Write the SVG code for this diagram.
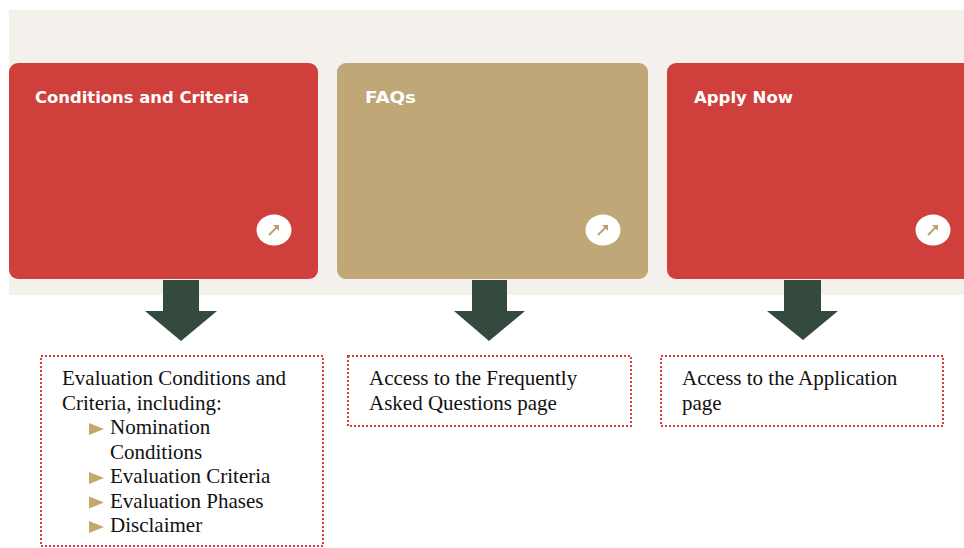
<svg xmlns="http://www.w3.org/2000/svg" width="964" height="548" viewBox="0 0 964 548">
<style>
.title{font-family:"DejaVu Sans","Liberation Sans",sans-serif;font-weight:bold;font-size:16px;fill:#ffffff}
.body{font-family:"Liberation Serif","Times New Roman",serif;font-size:21px;fill:#111111}
.box{fill:none;stroke:#e03a3a;stroke-width:2;stroke-dasharray:2 2}
.btn{fill:#ffffff}
.icon{stroke:#b8a26e;stroke-width:2;fill:none}
.iconhead{fill:#b8a26e}
.arrow{fill:#344a3f}
.bullet{fill:#c4a86b}
</style>
<rect width="964" height="548" fill="#ffffff"/>
<rect x="9" y="10" width="955" height="285" fill="#f4f1ec"/>
<g id="card-conditions">
<rect x="9" y="63" width="309" height="216" rx="9" fill="#cf3f3c"/>
<text class="title" x="35" y="103" textLength="214" lengthAdjust="spacingAndGlyphs">Conditions and Criteria</text>
<ellipse class="btn" cx="274" cy="230" rx="17.5" ry="15.5"/>
<path class="icon" d="M269 235 L277 227"/>
<polygon class="iconhead" points="279,225 279,231 273,225"/>
</g>
<g id="card-faqs">
<rect x="337" y="63" width="311" height="216" rx="9" fill="#bfa777"/>
<text class="title" x="365" y="103" textLength="51" lengthAdjust="spacingAndGlyphs">FAQs</text>
<ellipse class="btn" cx="603" cy="230" rx="17.5" ry="15.5"/>
<path class="icon" d="M598 235 L606 227"/>
<polygon class="iconhead" points="608,225 608,231 602,225"/>
</g>
<g id="card-apply">
<rect x="667" y="63" width="310" height="216" rx="9" fill="#cf3f3c"/>
<text class="title" x="694" y="103" textLength="99" lengthAdjust="spacingAndGlyphs">Apply Now</text>
<ellipse class="btn" cx="933" cy="230" rx="17.5" ry="15.5"/>
<path class="icon" d="M928 235 L936 227"/>
<polygon class="iconhead" points="938,225 938,231 932,225"/>
</g>
<g id="connectors">
<polygon class="arrow" points="163,280 199,280 199,311 217,311 181,341 145,311 163,311"/>
<polygon class="arrow" points="472,280 507,280 507,311 525,311 489,341 454,311 472,311"/>
<polygon class="arrow" points="784,280 821,280 821,311 838,311 803,340 767,311 784,311"/>
</g>
<g id="desc-conditions">
<rect class="box" x="41" y="356" width="282" height="190"/>
<text class="body" x="62" y="385">Evaluation Conditions and</text>
<text class="body" x="62" y="409.5">Criteria, including:</text>
<polygon class="bullet" points="89,423 104,429 89,435"/>
<text class="body" x="110" y="434">Nomination</text>
<text class="body" x="110" y="458.5">Conditions</text>
<polygon class="bullet" points="89,472 104,478 89,484"/>
<text class="body" x="110" y="483">Evaluation Criteria</text>
<polygon class="bullet" points="89,496.5 104,502.5 89,508.5"/>
<text class="body" x="110" y="507.5">Evaluation Phases</text>
<polygon class="bullet" points="89,521 104,527 89,533"/>
<text class="body" x="110" y="532">Disclaimer</text>
</g>
<g id="desc-faqs">
<rect class="box" x="348" y="356" width="283" height="70"/>
<text class="body" x="369" y="385">Access to the Frequently</text>
<text class="body" x="369" y="409.5">Asked Questions page</text>
</g>
<g id="desc-apply">
<rect class="box" x="661" y="356" width="282" height="70"/>
<text class="body" x="682" y="385">Access to the Application</text>
<text class="body" x="682" y="409.5">page</text>
</g>
</svg>
